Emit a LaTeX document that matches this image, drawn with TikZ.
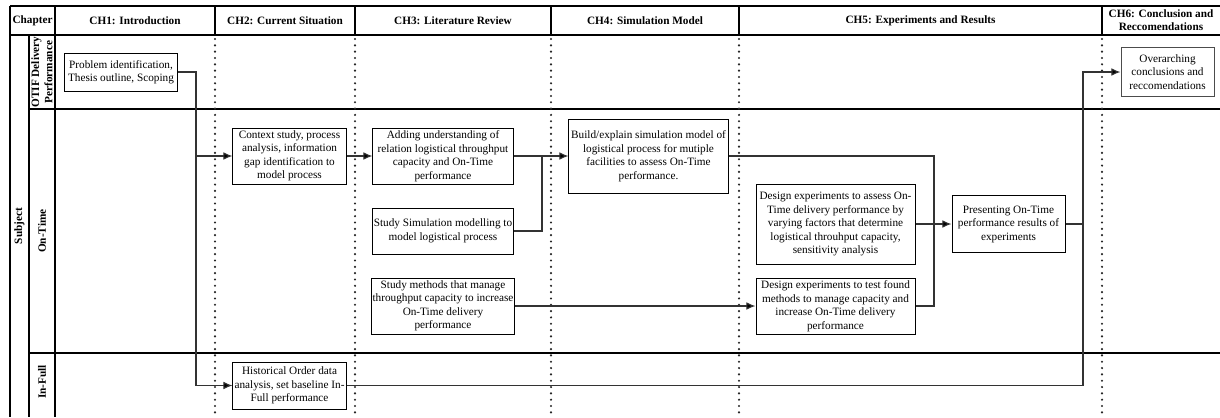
\documentclass[tikz,border=0pt]{standalone}
\usepackage{fontspec}
\setmainfont{Liberation Serif}
\usetikzlibrary{positioning,arrows.meta}
\begin{document}
\begin{tikzpicture}[x=0.025cm,y=-0.025cm,
	box/.style={draw,fill=white,line width=0.7pt,align=center,inner sep=0.5pt,font=\fontsize{8}{9.6}\selectfont},
	head/.style={align=center,font=\bfseries\fontsize{8}{9.4}\selectfont},
	lane/.style={line width=1.8pt},
	sep/.style={black!85,line width=1.7pt,dash pattern=on 0pt off 4.5pt,line cap=round},
	conn/.style={black!80,line width=0.8pt},
	arr/.style={conn,-{Latex[length=6.5pt,width=5.5pt,fill=black]}}]
	\useasboundingbox (0,0) rectangle (1220,417);
	\draw[lane] (10,6) -- (1220,6);
	\draw[lane] (10,35) -- (1220,35);
	\draw[lane] (10,6) -- (10,417);
	\draw[lane] (55,6) -- (55,417);
	\draw[lane] (29,35) -- (29,417);
	\draw[lane] (29,109) -- (1220,109);
	\draw[lane] (29,353) -- (1220,353);
	\foreach \x in {215,355,551,739,1102} {
		\draw[lane] (\x,6) -- (\x,35);
		\draw[sep] (\x,39) -- (\x,417);
	}
	\node[head] at (32.5,20.5) (hchapter) {Chapter};
	\node[head] at (135,20.5) (hintro) {CH1: Introduction};
	\node[head] at (285,20.5) (hcurrent) {CH2: Current Situation};
	\node[head] at (453,20.5) (hliterature) {CH3: Literature Review};
	\node[head] at (645,20.5) (hsimulation) {CH4: Simulation Model};
	\node[head] at (920.5,20.5) (hexperiments) {CH5: Experiments and Results};
	\node[head] at (1161,20.5) (hconclusion) {CH6: Conclusion and\\Reccomendations};
	\node[head,rotate=90] at (19.5,226) (lsubject) {Subject};
	\node[head,rotate=90] at (42,72) (lotif) {OTIF Delivery\\Performance};
	\node[head,rotate=90] at (42,231) (lontime) {On-Time};
	\node[head,rotate=90] at (42,382) (linfull) {In-Full};
	\node[box,minimum width=2.8cm,minimum height=0.95cm] at (121,72) (problem) {Problem identification,\\Thesis outline, Scoping};
	\node[box,minimum width=2.825cm,minimum height=1.4cm] at (289.5,156) (context) {Context study, process\\analysis, information\\gap identification to\\model process};
	\node[box,minimum width=2.825cm,minimum height=1.175cm] at (289.5,385.5) (historical) {Historical Order data\\analysis, set baseline In-\\Full performance};
	\node[box,minimum width=3.5cm,minimum height=1.4cm] at (443,156) (adding) {Adding understanding of\\relation logistical throughput\\capacity and On-Time\\performance};
	\node[box,minimum width=3.5cm,minimum height=1.15cm] at (443,231) (studysim) {Study Simulation modelling to\\model logistical process};
	\node[box,minimum width=3.5cm,minimum height=1.4cm] at (443,306) (studymethods) {Study methods that manage\\throughput capacity to increase\\On-Time delivery\\performance};
	\node[box,minimum width=3.975cm,minimum height=1.85cm] at (648.5,156) (build) {Build/explain simulation model of\\logistical process for mutiple\\facilities to assess On-Time\\performance.};
	\node[box,minimum width=3.975cm,minimum height=2cm] at (835.5,224) (designassess) {Design experiments to assess On-\\Time delivery performance by\\varying factors that determine\\logistical throuhput capacity,\\sensitivity analysis};
	\node[box,minimum width=3.975cm,minimum height=1.4cm] at (835.5,306) (designtest) {Design experiments to test found\\methods to manage capacity and\\increase On-Time delivery\\performance};
	\node[box,minimum width=2.825cm,minimum height=1.425cm] at (1008.5,224) (presenting) {Presenting On-Time\\performance results of\\experiments};
	\node[box,draw=black!70,minimum width=2.325cm,minimum height=1.225cm] at (1167.5,72) (overarching) {Overarching\\conclusions and\\reccomendations};
	\coordinate (introbus) at (196,156);
	\coordinate (litbus) at (542,156);
	\coordinate (expbus) at (934,224);
	\coordinate (endbus) at (1083,72);
	\draw[arr] (problem.east) -| (introbus) -- (context.west);
	\draw[arr] (introbus) |- (historical.west);
	\draw[arr] (context.east) -- (adding.west);
	\draw[arr] (adding.east) -- (build.west);
	\draw[conn] (studysim.east) -| (litbus);
	\draw[arr] (studymethods.east) -- (designtest.west);
	\draw[conn] (build.east) -| (expbus);
	\draw[conn] (designtest.east) -| (expbus);
	\draw[arr] (designassess.east) -- (presenting.west);
	\draw[conn] (presenting.east) -| (endbus);
	\draw[arr] (historical.east) -| (endbus) -- (overarching.west);
\end{tikzpicture}
\end{document}
